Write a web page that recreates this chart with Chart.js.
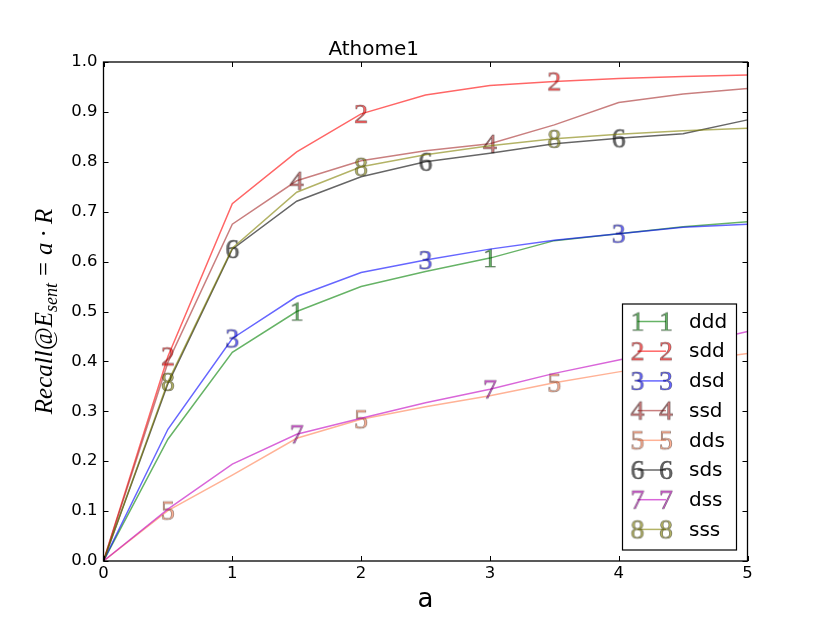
<!DOCTYPE html>
<html>
<head>
<meta charset="utf-8">
<script src="https://cdn.jsdelivr.net/npm/chart.js@4.4.1/dist/chart.umd.min.js"></script>
<style>
  html, body { margin: 0; padding: 0; background: #fff; }
  #wrap { width: 830px; height: 623px; }
</style>
</head>
<body>
<div id="wrap"><canvas id="c" width="830" height="623"></canvas></div>
<script>
// ---- data ----
const xValues = [0, 0.5, 1, 1.5, 2, 2.5, 3, 3.5, 4, 4.5, 5];
const seriesNames = ['ddd', 'sdd', 'dsd', 'ssd', 'dds', 'sds', 'dss', 'sss'];
const markerGlyphs = ['1', '2', '3', '4', '5', '6', '7', '8'];
const ddd = [0, 0.244, 0.418, 0.500, 0.550, 0.580, 0.607, 0.642, 0.656, 0.670, 0.680];
const sdd = [0, 0.410, 0.716, 0.820, 0.896, 0.934, 0.953, 0.961, 0.967, 0.971, 0.974];
const dsd = [0, 0.264, 0.446, 0.530, 0.578, 0.603, 0.625, 0.643, 0.656, 0.669, 0.675];
const ssd = [0, 0.398, 0.675, 0.762, 0.802, 0.822, 0.836, 0.874, 0.919, 0.936, 0.947];
const dds = [0, 0.101, 0.172, 0.246, 0.284, 0.309, 0.331, 0.357, 0.379, 0.399, 0.416];
const sds = [0, 0.355, 0.625, 0.721, 0.770, 0.800, 0.817, 0.836, 0.847, 0.856, 0.884];
const dss = [0, 0.104, 0.194, 0.254, 0.286, 0.317, 0.344, 0.376, 0.403, 0.430, 0.460];
const sss = [0, 0.359, 0.627, 0.739, 0.790, 0.814, 0.832, 0.846, 0.855, 0.862, 0.867];
const seriesValues = [ddd, sdd, dsd, ssd, dds, sds, dss, sss];
// indices of xValues where a number marker is shown
const markerIndices = [[3, 6], [1, 4, 7], [2, 5, 8], [3, 6], [1, 4, 7], [2, 5, 8], [3, 6], [1, 4, 7]];
const xTicks = [0, 1, 2, 3, 4, 5];
const yTicks = [0, 0.1, 0.2, 0.3, 0.4, 0.5, 0.6, 0.7, 0.8, 0.9, 1.0];
const titleText = 'Athome1';
const xTitle = 'a';

// ---- styles ----
const colors = [
  'rgba(0,128,0,0.6)', 'rgba(255,0,0,0.6)', 'rgba(0,0,255,0.6)', 'rgba(165,42,42,0.6)',
  'rgba(255,127,80,0.6)', 'rgba(0,0,0,0.6)', 'rgba(191,0,191,0.6)', 'rgba(128,128,0,0.6)'
];
const GLYPH_FONT = '28px "Liberation Serif", "DejaVu Serif", serif';

function makeGlyph(ch, fill) {
  const c = document.createElement('canvas');
  c.width = 36; c.height = 36;
  const g = c.getContext('2d');
  g.font = GLYPH_FONT;
  g.textAlign = 'center';
  g.textBaseline = 'alphabetic';
  const m = g.measureText(ch);
  const baseY = 18 + (m.actualBoundingBoxAscent - m.actualBoundingBoxDescent) / 2;
  g.fillStyle = fill;
  g.fillText(ch, 18, baseY);
  g.strokeStyle = 'rgba(0,0,0,0.55)';
  g.lineWidth = 0.6;
  g.strokeText(ch, 18, baseY);
  return c;
}

function build() {
  const glyphs = markerGlyphs.map((ch, i) => makeGlyph(ch, colors[i]));

  Chart.defaults.color = '#000';
  Chart.defaults.font.family = '"DejaVu Sans", sans-serif';

  const datasets = seriesNames.map((name, i) => ({
    label: name,
    data: xValues.map((x, k) => ({ x: x, y: seriesValues[i][k] })),
    borderColor: colors[i],
    backgroundColor: colors[i],
    borderWidth: 1.5,
    tension: 0,
    fill: false,
    pointStyle: glyphs[i],
    pointRadius: xValues.map((x, k) => markerIndices[i].includes(k) ? 8 : 0),
    pointHoverRadius: 0,
    order: seriesNames.length - i
  }));

  const frameAndTicks = {
    id: 'frameAndTicks',
    afterDraw(chart) {
      const { ctx, chartArea: a, scales } = chart;
      const L = 5;
      ctx.save();
      ctx.strokeStyle = '#000';
      ctx.lineWidth = 1;
      ctx.beginPath();
      xTicks.forEach(v => {
        const px = Math.round(scales.x.getPixelForValue(v)) + 0.5;
        ctx.moveTo(px, a.bottom); ctx.lineTo(px, a.bottom - L);
        ctx.moveTo(px, a.top); ctx.lineTo(px, a.top + L);
      });
      yTicks.forEach(v => {
        const py = Math.round(scales.y.getPixelForValue(v)) + 0.5;
        ctx.moveTo(a.left, py); ctx.lineTo(a.left + L, py);
        ctx.moveTo(a.right, py); ctx.lineTo(a.right - L, py);
      });
      ctx.stroke();
      ctx.lineWidth = 1.3;
      ctx.strokeRect(a.left, a.top, a.right - a.left, a.bottom - a.top);

      // legend box (inside plot, lower right)
      const bx = 622.5, by = 304, bw = 114, bh = 246;
      ctx.fillStyle = '#fff';
      ctx.fillRect(bx, by, bw, bh);
      ctx.lineWidth = 1.2;
      ctx.strokeRect(bx, by, bw, bh);
      const row0 = 321.5, step = 29.7;
      chart.data.datasets.forEach((ds, i) => {
        const y = row0 + i * step;
        ctx.strokeStyle = ds.borderColor;
        ctx.lineWidth = 1.5;
        ctx.beginPath(); ctx.moveTo(637.5, y); ctx.lineTo(666, y); ctx.stroke();
        const g = ds.pointStyle;
        ctx.drawImage(g, 637.5 - g.width / 2, y - g.height / 2);
        ctx.drawImage(g, 666 - g.width / 2, y - g.height / 2);
        ctx.fillStyle = '#000';
        ctx.font = '20px "DejaVu Sans", sans-serif';
        ctx.textAlign = 'left';
        ctx.textBaseline = 'middle';
        ctx.fillText(ds.label, 689, y + 1);
      });

      // y-axis math label: Recall@E_sent = a · R
      const fs = 25;
      const it = `italic ${fs}px "Liberation Serif", serif`;
      const itSub = `italic ${Math.round(fs * 0.7)}px "Liberation Serif", serif`;
      const up = `${fs}px "Liberation Serif", serif`;
      const parts = [
        { t: 'Recall@E', f: it, dy: 0 },
        { t: 'sent', f: itSub, dy: 5 },
        { t: '=', f: up, dy: 0, pad: 7 },
        { t: 'a', f: it, dy: 0 },
        { t: '·', f: up, dy: 0, pad: 5 },
        { t: 'R', f: it, dy: 0 }
      ];
      let total = 0;
      parts.forEach(p => { ctx.font = p.f; p.w = ctx.measureText(p.t).width + (p.pad || 0) * 2; total += p.w; });
      ctx.translate(52, (a.top + a.bottom) / 2);
      ctx.rotate(-Math.PI / 2);
      ctx.fillStyle = '#000';
      ctx.textBaseline = 'alphabetic';
      ctx.textAlign = 'left';
      let cx = -total / 2;
      parts.forEach(p => {
        ctx.font = p.f;
        ctx.fillText(p.t, cx + (p.pad || 0), p.dy);
        cx += p.w;
      });
      ctx.restore();
    }
  };

  new Chart(document.getElementById('c'), {
    type: 'line',
    data: { datasets },
    options: {
      responsive: false,
      animation: false,
      events: [],
      layout: { padding: { left: 0, top: 0, right: 82.5, bottom: 0 } },
      plugins: {
        legend: { display: false },
        tooltip: { enabled: false },
        title: {
          display: true,
          text: titleText,
          color: '#000',
          font: { size: 20, weight: 'normal', family: '"DejaVu Sans", sans-serif' },
          padding: { top: 38, bottom: 0 }
        }
      },
      scales: {
        x: {
          type: 'linear', min: 0, max: 5,
          grid: { display: false, drawTicks: false },
          border: { display: false },
          ticks: { stepSize: 1, padding: 3, font: { size: 16.5 }, color: '#000', callback: v => String(v) },
          title: { display: true, text: xTitle, color: '#000', font: { size: 26 }, padding: { top: 0, bottom: 7 } },
          afterFit: s => { s.height = 62; }
        },
        y: {
          type: 'linear', min: 0, max: 1,
          grid: { display: false, drawTicks: false },
          border: { display: false },
          ticks: { stepSize: 0.1, padding: 6, font: { size: 16.5 }, color: '#000', callback: v => Number(v).toFixed(1) },
          afterFit: s => { s.width = 103.5; }
        }
      }
    },
    plugins: [frameAndTicks]
  });
}

let built = false;
function go() { if (!built) { built = true; build(); } }
if (document.fonts && document.fonts.load) {
  Promise.all([
    document.fonts.load('28px "Liberation Serif"', '12345678'),
    document.fonts.load('italic 25px "Liberation Serif"', 'Recall')
  ]).then(go, go);
  setTimeout(go, 1500);
} else {
  go();
}
</script>
</body>
</html>
